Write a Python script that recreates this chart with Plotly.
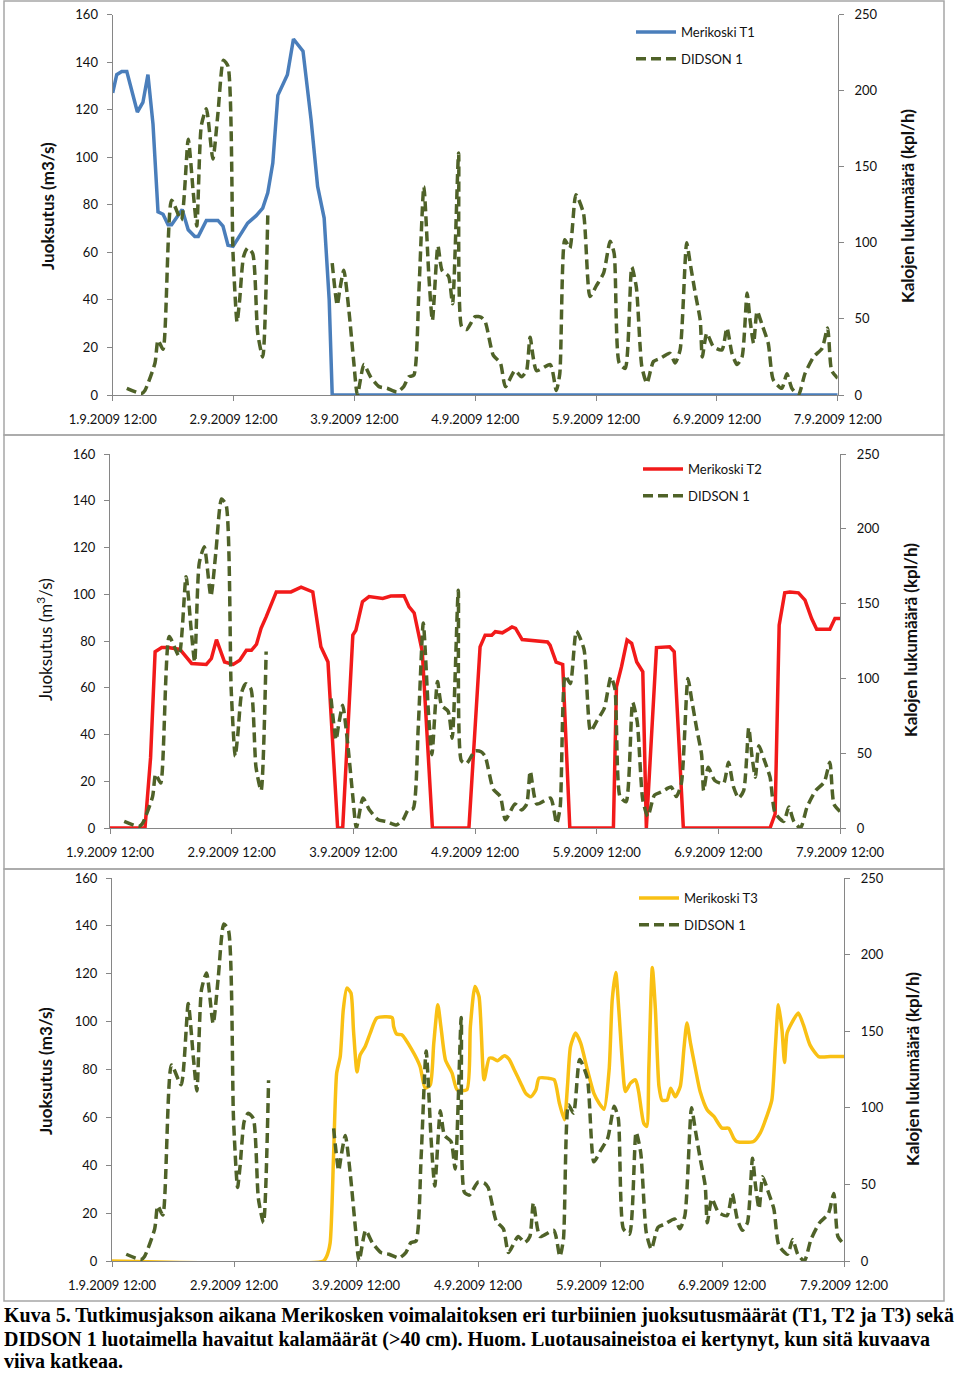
import plotly.graph_objects as go

# ---------------- data (hours since 1.9.2009 12:00) ----------------
x_tick_hours = [0, 24, 48, 72, 96, 120, 144]
x_tick_labels = ["1.9.2009 12:00", "2.9.2009 12:00", "3.9.2009 12:00", "4.9.2009 12:00",
                 "5.9.2009 12:00", "6.9.2009 12:00", "7.9.2009 12:00"]
left_ticks = [0, 20, 40, 60, 80, 100, 120, 140, 160]
right_ticks = [0, 50, 100, 150, 200, 250]

didson_h = [2.8, 5.7, 6.4, 8.4, 9, 10, 11.7, 13.6, 15, 16, 16.7, 17.6, 18.6, 19.9, 20.9, 22, 22.9,
            23.9, 24.7, 25.2, 26, 26.8, 27.8, 28.8, 29.8, 30.8, 37,
            43.6, 44.6, 45.1, 45.9, 46.9, 47.9, 48.6, 49.9, 51.2, 52.9, 54.5, 56.5, 57.8, 58.8, 59.8,
            60.8, 61.8, 62.8, 63.5, 64.6, 65.4, 66.7, 67.5, 68.7, 69.3, 70.3, 72, 73.2, 74, 75.6, 77,
            78, 79.9, 81.2, 82.2, 82.9, 84.2, 86.9, 88.1, 88.8, 89.8, 90.8, 92, 93.5, 94.8, 96.1,
            97.5, 98.8, 99.6, 100.6, 101.8, 103.1, 104, 105.1, 106.1, 107.4, 108.7, 110.7, 111.7,
            112.7, 114, 114.7, 115.7, 116.7, 117.1, 118, 119.3, 121, 122, 123, 124, 125, 126,
            126.6, 127.3, 128, 129, 130.2, 131.2, 132.9, 133.9, 134.9, 136.2, 137.5, 139.2, 140.9,
            142, 142.8, 144]
didson_v = [4.4, 1, 3, 21, 36, 30, 128, 115, 168, 133, 111, 177, 188, 155, 185, 220, 216,
            93, 48, 62, 91, 96.5, 93, 40.6, 25, 118, None,
            86.6, 59, 69, 82, 56, 21, 0, 20, 12, 5.5, 4.4, 2, 5.5, 12, 13,
            67, 137, 78, 49, 98, 82, 78, 60, 159, 45, 43, 51.5, 51, 48, 26, 21,
            5.5, 16, 12, 16, 38, 16, 20, 3, 14, 102, 96.5, 131.6, 119.5, 64.7, 72,
            80, 101, 93, 21, 17.5, 84, 71, 18.6, 7.7, 22, 24, 27.4, 21,
            29.6, 100, 86.6, 67, 49, 25, 40.6, 31.8, 29.6, 44, 27.4, 20, 25, 67,
            49, 34, 55, 46, 34, 10, 4.4, 14, 4.4, 0, 14, 25, 30.7,
            44, 16, 11]

t1_h = [0, 0.8, 1.8, 2.8, 4.9, 6, 7, 8, 9, 10, 11, 11.7, 13.8, 15, 16.3, 17, 18.6, 20.9, 21.9,
        22.9, 23.9, 25.2, 26.8, 28.5, 29.8, 30.8, 31.8, 32.8, 34.7, 35.9, 37.8, 39.4, 40.7, 42,
        43, 43.6, 144]
t1_v = [127, 134.7, 136, 136, 119, 123, 134.7, 114, 77, 76, 71.6, 71.6, 78, 69.5, 66.7, 66.7,
        73.4, 73.4, 71, 63, 62.5, 66.7, 72.3, 75.4, 78.6, 85, 97.5, 126, 134.7, 149.7, 144.6,
        115.8, 87.7, 74.4, 40, 0, 0]

t2_h = [0, 6.9, 8, 8.9, 10.2, 11.5, 13.8, 16.1, 19, 20, 21, 22.6, 24.3, 25.6, 26.9, 27.9, 28.9,
        29.8, 30.8, 32.8, 35.7, 37.7, 40, 41.6, 43, 44.9, 45.9, 47.9, 48.5, 49.8, 51.1, 52.5,
        53.8, 55.4, 58, 59, 60, 61.6, 63.6, 70.8, 73, 74, 75.3, 76, 77.4, 79.3, 80, 81.3, 84.3,
        85.3, 86.3, 86.8, 88, 89.3, 90.7, 99.3, 99.9, 100.9, 102, 102.9, 103.9, 105.1, 105.8,
        107.8, 109.8, 110.4, 111.3, 113.1, 130.2, 131.2, 132, 133.1, 134.1, 135.8, 137.1, 138.4,
        139.4, 142, 143, 144]
t2_v = [0, 0, 30, 75.4, 77.2, 77.2, 76.4, 70.4, 70, 72.5, 80.6, 71, 70, 71.8, 76, 76, 78.6,
        85.4, 90.3, 101, 101, 103, 101, 77.5, 71, 0, 0, 82.5, 84.6, 96.8, 99, 98.6,
        98.2, 99.2, 99.3, 94.6, 92, 75.4, 0, 0, 77.5, 82.5, 82.5, 84, 83.5, 86, 85.4, 80.6, 80,
        79.6, 79.6, 78.2, 71, 70, 0, 0, 60.4, 69, 80.4, 79, 71, 66.8, 0,
        77.2, 77.2, 77.5, 75.4, 0, 0, 6, 86.8, 100.6, 101, 100.6, 97.5, 89.6,
        85, 85, 89.6, 89.6]

t3_h = [0, 41.6, 42.2, 42.9, 43.6, 44.2, 44.9, 45.5, 46.2, 47, 47.5, 48.2, 48.8, 49.8, 50.8,
        52.1, 55.1, 55.4, 56, 57, 59, 60.6, 61.6, 62.6, 63.3, 64.1, 64.7, 65.6, 66.9, 67.9, 69.8,
        70.5, 71.4, 72.2, 73.2, 74.2, 74.9, 75.8, 77.2, 78.1, 79.1, 80.4, 81.4, 82.4, 83.4, 84,
        85.7, 87, 88, 89, 89.6, 90.2, 91.2, 92.2, 93.5, 94.8, 95.8, 96.8, 97.8, 98.4, 99.1, 99.7,
        100.4, 101, 102, 103, 103.6, 104.6, 105.2, 105.6, 106.3, 106.9, 107.6, 108.2, 109.2,
        109.9, 110.8, 111.8, 112.5, 113.1, 113.8, 114.8, 115.7, 117.1, 118.4, 120, 121.3, 122.3,
        122.9, 126.2, 127.5, 128.8, 129.8, 130.5, 131.1, 131.8, 132.3, 132.8, 133.7, 135, 136,
        137.3, 139, 141.3, 144]
t3_v = [0, 0, 1.8, 7.4, 45, 78.5, 85.4, 105, 114, 112, 96.6, 79, 86, 89.6, 95.2,
        101.5, 101.7, 98, 94.8, 94.5, 88.2, 81.3, 72.2, 73.6, 91, 107, 98, 84, 78.5, 71.5, 71.5,
        98, 114.7, 110.5, 75.7, 84.7, 84.7, 83.7, 85.7, 84.3, 80, 74.3, 70, 68.6, 71.5, 76.4,
        76.4, 75.7, 66, 59, 73, 89.6, 95.2, 91, 80, 70, 66, 63.4, 80, 109, 120.5, 105,
        82.9, 70.8, 74.3, 75.7, 70.8, 57.6, 56.2, 80, 122.6, 105, 73, 67.2, 67.2,
        72.2, 68.6, 73, 88.5, 99.4, 91, 80, 70.8, 63.1, 60.4, 55.5, 55.5, 51.3,
        49.9, 49.9, 53.4, 60.4, 67.2, 89.6, 107, 96.6, 82.9, 95.2, 99.4, 103.6, 98.7,
        90.3, 85.4, 85.4, 85.4]

turbine_names = ["Merikoski T1", "Merikoski T2", "Merikoski T3"]
didson_name = "DIDSON 1"

# ---------------- styling / layout ----------------
W, H = 960, 1373
def fx(x): return x / W
def fy(y): return 1 - y / H

AX = "#868686"
SANS = "Lato, Open Sans, sans-serif"
TICKFONT = dict(family=SANS, size=13, color="#111")
turb_colors = ["#4A7EBB", "#F21A1A", "#F9C014"]
didson_color = "#4F6228"

# panel geometry in pixels: x0, x1, y of value 0, y of top value
panels = [
    dict(x0=112.7, x1=837.7, yb=395, yt=14.5, box=(4, 1, 944, 435),
         leg=(631, 17), ltitle=(47, 206), rtitle=(907, 206), sup=False),
    dict(x0=110, x1=840, yb=828, yt=454, box=(4, 435, 944, 869),
         leg=(638, 454), ltitle=(44, 640), rtitle=(910, 640), sup=True),
    dict(x0=112, x1=844, yb=1261, yt=878, box=(4, 869, 944, 1301),
         leg=(634, 883), ltitle=(45, 1071), rtitle=(912, 1069), sup=False),
]
turb_h = [t1_h, t2_h, t3_h]
turb_v = [t1_v, t2_v, t3_v]
turb_shape = ["linear", "linear", "spline"]

fig = go.Figure()
layout = dict(width=W, height=H, margin=dict(l=0, r=0, t=0, b=0, autoexpand=False),
              paper_bgcolor="white", plot_bgcolor="rgba(0,0,0,0)", showlegend=True)
shapes, annotations = [], []

for i, p in enumerate(panels):
    n = i + 1
    xa = "x" if n == 1 else f"x{n}"
    yl_idx = 2 * i + 1
    yr_idx = 2 * i + 2
    yl = "y" if yl_idx == 1 else f"y{yl_idx}"
    yr = f"y{yr_idx}"
    leg = "legend" if n == 1 else f"legend{n}"

    fig.add_trace(go.Scatter(x=turb_h[i], y=turb_v[i], name=turbine_names[i], mode="lines",
                             line=dict(color=turb_colors[i], width=3.5, shape=turb_shape[i],
                                       smoothing=0.6),
                             xaxis=xa, yaxis=yl, legend=leg, legendgroup=f"a{n}"))
    fig.add_trace(go.Scatter(x=didson_h, y=didson_v, name=didson_name, mode="lines",
                             connectgaps=False,
                             line=dict(color=didson_color, width=3.5, dash="10px,5px",
                                       shape="spline", smoothing=0.6),
                             xaxis=xa, yaxis=yr, legend=leg, legendgroup=f"b{n}"))

    dom_y = [fy(p["yb"]), fy(p["yt"])]
    xkey = "xaxis" if n == 1 else f"xaxis{n}"
    ylkey = "yaxis" if yl_idx == 1 else f"yaxis{yl_idx}"
    yrkey = f"yaxis{yr_idx}"
    common = dict(showgrid=False, zeroline=False, showline=True, linecolor=AX, linewidth=1.3,
                  ticks="outside", ticklen=5, tickcolor=AX, tickwidth=1.3, tickfont=TICKFONT,
                  automargin=False)
    layout[xkey] = dict(domain=[fx(p["x0"]), fx(p["x1"])], range=[0, 144], anchor=yl,
                        tickmode="array", tickvals=x_tick_hours, ticktext=x_tick_labels,
                        ticklabelstandoff=7, **common)
    layout[ylkey] = dict(domain=dom_y, range=[0, 160], anchor=xa, tickmode="array",
                         tickvals=left_ticks, ticklabelstandoff=6, **common)
    layout[yrkey] = dict(domain=dom_y, range=[0, 250], anchor=xa, overlaying=yl, side="right",
                         tickmode="array", tickvals=right_ticks, ticklabelstandoff=8, **common)
    layout[leg] = dict(x=fx(p["leg"][0]), y=fy(p["leg"][1]), xanchor="left", yanchor="top",
                       bgcolor="rgba(0,0,0,0)", tracegroupgap=7, itemwidth=40,
                       font=dict(family=SANS, size=13, color="#111"))

    bx0, by0, bx1, by1 = p["box"]
    shapes.append(dict(type="rect", xref="paper", yref="paper", x0=fx(bx0), x1=fx(bx1),
                       y0=fy(by1), y1=fy(by0), line=dict(color="#A6A6A6", width=1.5)))
    ltxt = "Juoksutus (m<sup>3</sup>/s)" if p["sup"] else "<b>Juoksutus (m3/s)</b>"
    annotations.append(dict(text=ltxt, textangle=-90, xref="paper", yref="paper",
                            x=fx(p["ltitle"][0]), y=fy(p["ltitle"][1]), showarrow=False,
                            xanchor="center", yanchor="middle",
                            font=dict(family=SANS, size=17, color="#111")))
    annotations.append(dict(text="<b>Kalojen lukumäärä (kpl/h)</b>", textangle=-90,
                            xref="paper", yref="paper",
                            x=fx(p["rtitle"][0]), y=fy(p["rtitle"][1]), showarrow=False,
                            xanchor="center", yanchor="middle",
                            font=dict(family=SANS, size=17, color="#111")))

caption_lines = [
    "Kuva 5. Tutkimusjakson aikana Merikosken voimalaitoksen eri turbiinien juoksutusmäärät (T1, T2 ja T3) sekä",
    "DIDSON 1 luotaimella havaitut kalamäärät (>40 cm). Huom. Luotausaineistoa ei kertynyt, kun sitä kuvaava",
    "viiva katkeaa.",
]
for j, (line, yy) in enumerate(zip(caption_lines, [1315, 1339, 1361])):
    annotations.append(dict(text=f"<b>{line}</b>", xref="paper", yref="paper", x=fx(2), y=fy(yy),
                            xanchor="left", yanchor="middle", showarrow=False,
                            font=dict(family="Liberation Serif, Times New Roman, serif", size=20,
                                      color="#000")))

layout["shapes"] = shapes
layout["annotations"] = annotations
fig.update_layout(**layout)
fig.write_html("out.html")
